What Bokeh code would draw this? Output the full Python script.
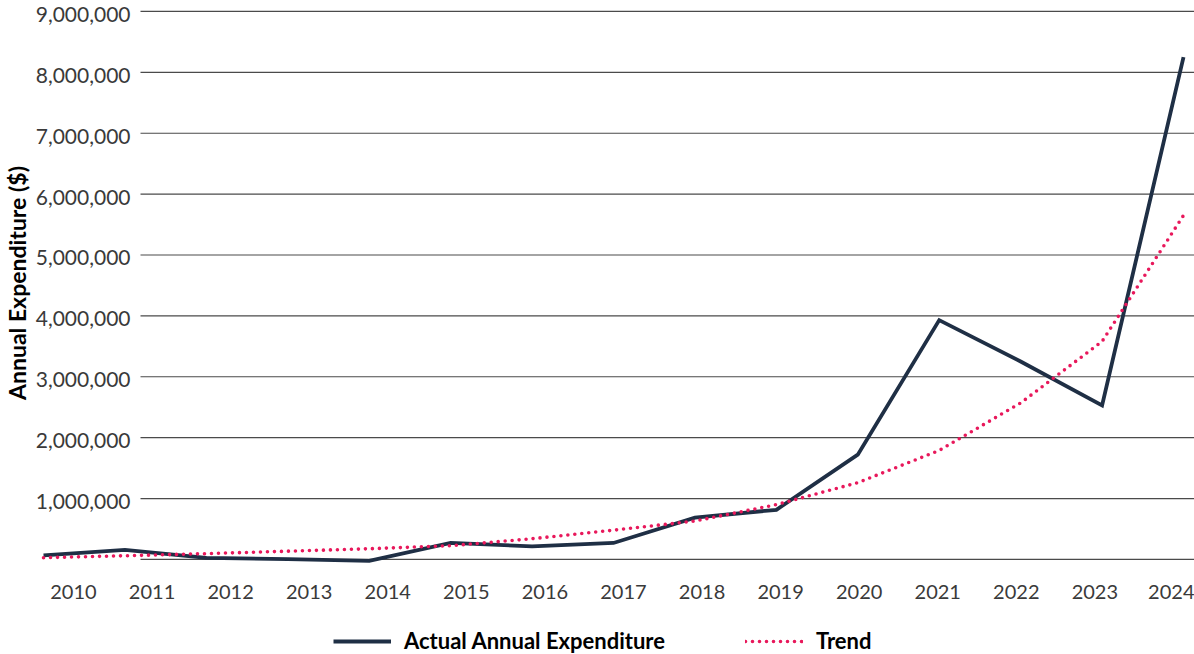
from bokeh.plotting import figure
from bokeh.layouts import column
from bokeh.models import Range1d, LinearAxis, FixedTicker, Legend, LegendItem, Title
from bokeh.core.properties import value
from bokeh.embed import file_html
from bokeh.resources import INLINE

# ---- data ----
years = [2010, 2011, 2012, 2013, 2014, 2015, 2016, 2017, 2018, 2019, 2020, 2021, 2022, 2023, 2024]
actual = [65000, 155000, 25000, 5000, -25000, 270000, 215000, 270000, 685000, 815000,
          1720000, 3930000, 3250000, 2530000, 8250000]
trend = [28000, 60000, 95000, 135000, 175000, 225000, 340000, 480000, 630000, 900000,
         1260000, 1790000, 2570000, 3580000, 5650000]
y_ticks = [0, 1000000, 2000000, 3000000, 4000000, 5000000, 6000000, 7000000, 8000000, 9000000]
y_tick_labels = ["1,000,000", "2,000,000", "3,000,000", "4,000,000", "5,000,000",
                 "6,000,000", "7,000,000", "8,000,000", "9,000,000"]
series_names = ["Actual Annual Expenditure", "Trend"]
y_title = "Annual Expenditure ($)"

# ---- styles ----
FONT = "Lato"
NAVY = "#1f2f45"
PINK = "#e8185b"
GRID = "#4a4a4a"
TXT = "#3a3a3a"
W = 1194

x_start, x_end = 2009.84, 2024.135
p = figure(width=W, height=609,
           x_range=Range1d(x_start, x_end), y_range=Range1d(-100000, 9180000),
           x_axis_location=None, y_axis_location=None,
           min_border_left=30, min_border_right=0, min_border_top=0, min_border_bottom=44,
           output_backend="svg", toolbar_location=None)
p.outline_line_color = None
p.grid.visible = False

p.extra_x_ranges = {"labels": Range1d(2009.453, 2024.268)}
xax = LinearAxis(x_range_name="labels", ticker=FixedTicker(ticks=years),
                 major_label_overrides={y: str(y) for y in years})
xax.axis_line_color = None
xax.major_tick_line_color = None
xax.minor_tick_line_color = None
xax.major_tick_out = 0
xax.major_tick_in = 0
xax.major_label_standoff = 19
xax.major_label_text_font = FONT
xax.major_label_text_font_size = "20px"
xax.major_label_text_color = TXT
p.add_layout(xax, "below")

# y title on the left
p.add_layout(Title(text=y_title, align="center", text_font=FONT, text_font_size="23px",
                   text_font_style="bold", text_color="black", standoff=0, offset=0), "left")

# gridlines (start right of labels, as in the reference)
grid_x0 = 2011.191
p.segment(x0=[grid_x0] * len(y_ticks), y0=y_ticks, x1=[x_end] * len(y_ticks), y1=y_ticks,
          line_color=GRID, line_width=1.2)

# y tick labels inside the frame
label_x = 2011.068
p.text(x=[label_x] * len(y_tick_labels), y=y_ticks[1:], text=y_tick_labels,
       text_align="right", text_baseline="middle", y_offset=3,
       text_font=value(FONT), text_font_size="21px", text_color=TXT)

r1 = p.line(years, actual, line_color=NAVY, line_width=3.8, line_join="miter")
r2 = p.line(years, trend, line_color=PINK, line_width=3.6, line_dash="0 7", line_cap="round")

# ---- legend strip below the chart (its lines fall outside its own ranges) ----
lf = figure(width=W, height=45, x_range=Range1d(0, 1), y_range=Range1d(0, 1),
            x_axis_location=None, y_axis_location=None, min_border=0,
            output_backend="svg", toolbar_location=None)
lf.outline_line_color = None
lf.grid.visible = False
l1 = lf.line(years, actual, line_color=NAVY, line_width=3.8)
l2 = lf.line(years, trend, line_color=PINK, line_width=3.6, line_dash="0 7", line_cap="round")
legend = Legend(items=[LegendItem(label=series_names[0], renderers=[l1]),
                       LegendItem(label=series_names[1], renderers=[l2])],
                orientation="horizontal", location=(303, 0),
                glyph_width=58, glyph_height=20, label_standoff=13, spacing=80,
                margin=0, padding=0, border_line_color=None, background_fill_alpha=0,
                label_text_font=FONT, label_text_font_size="22px", label_text_font_style="bold",
                label_text_color="black")
lf.add_layout(legend, "center")

open("out.html", "w").write(file_html(column(p, lf, spacing=0), INLINE))
